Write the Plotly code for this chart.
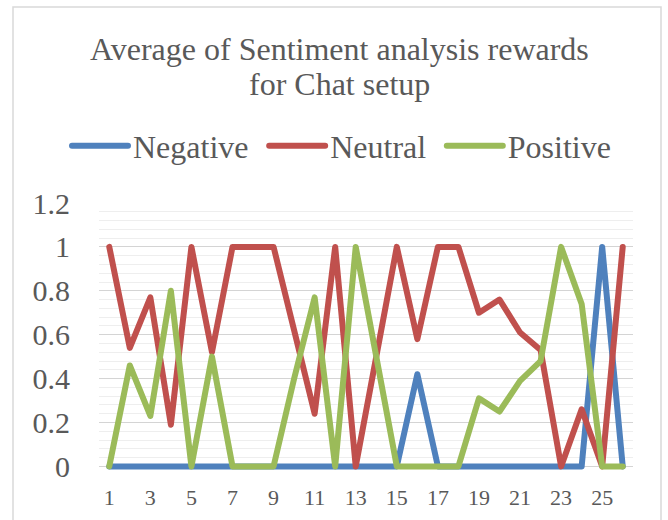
import plotly.graph_objects as go

categories = list(range(1, 27))
negative = [0, 0, 0, 0, 0, 0, 0, 0, 0, 0, 0, 0, 0, 0, 0, 0.42, 0, 0, 0, 0, 0, 0, 0, 0, 1, 0]
neutral = [1, 0.54, 0.77, 0.19, 1, 0.52, 1, 1, 1, 0.62, 0.24, 1, 0, 0.5, 1, 0.58, 1, 1, 0.70, 0.76, 0.61, 0.53, 0, 0.26, 0, 1]
positive = [0, 0.46, 0.23, 0.80, 0, 0.5, 0, 0, 0, 0.40, 0.77, 0, 1, 0.5, 0, 0, 0, 0, 0.31, 0.25, 0.39, 0.48, 1, 0.74, 0, 0]
y_ticks = [0, 0.2, 0.4, 0.6, 0.8, 1, 1.2]
y_labels = ["0", "0.2", "0.4", "0.6", "0.8", "1", "1.2"]
x_ticks = list(range(1, 27, 2))
title_lines = ["Average of Sentiment analysis rewards", "for Chat setup"]
series_names = ["Negative", "Neutral", "Positive"]

W, H = 668, 520
ML, MR, MT, MB = 99, 35, 203, 47
PW, PH = W - ML - MR, H - MT - MB
FONT = "Liberation Serif"
GREY = "#595959"
PAD = "\u00a0\u200a"

def px_x(p):
    return (p - ML) / PW

def px_y(p):
    return (H - MB - p) / PH

fig = go.Figure()
series = [negative, neutral, positive]
colors = ["#4F81BD", "#C0504D", "#9BBB59"]
for i, (name, vals, col) in enumerate(zip(series_names, series, colors)):
    label = name + (PAD if i < len(series_names) - 1 else "")
    fig.add_trace(go.Scatter(x=categories, y=vals, mode="lines", name=label,
                             line=dict(color=col, width=6)))

fig.update_layout(
    width=W, height=H,
    margin=dict(l=ML, r=MR, t=MT, b=MB, autoexpand=False),
    paper_bgcolor="white", plot_bgcolor="white",
    font=dict(family=FONT, color=GREY),
    showlegend=True,
    legend=dict(orientation="h", xref="paper", yref="paper",
                x=px_x(67), xanchor="left", y=px_y(146), yanchor="middle",
                font=dict(size=32, family=FONT, color=GREY),
                itemwidth=56),
    annotations=[
        dict(text=title_lines[0], xref="paper", yref="paper", x=px_x(339), y=px_y(49),
             xanchor="center", yanchor="middle", showarrow=False,
             font=dict(size=32, family=FONT, color=GREY)),
        dict(text=title_lines[1], xref="paper", yref="paper", x=px_x(339), y=px_y(84),
             xanchor="center", yanchor="middle", showarrow=False,
             font=dict(size=32, family=FONT, color=GREY)),
    ],
    shapes=[dict(type="rect", xref="paper", yref="paper",
                 x0=px_x(13), x1=px_x(661), y0=px_y(530), y1=px_y(7),
                 line=dict(color="#d9d9d9", width=1.5), layer="below")],
)
fig.update_xaxes(range=[0.5, 26.5], tickvals=x_ticks, showgrid=False, zeroline=False,
                 showline=False, ticks="", tickfont=dict(size=22, family=FONT, color=GREY),
                 ticklabelstandoff=9)
fig.update_yaxes(range=[-0.03, 1.2], tickvals=y_ticks, ticktext=y_labels,
                 showgrid=True, gridcolor="#d4d4d4", gridwidth=1.3, zeroline=False,
                 showline=False, ticks="", tickfont=dict(size=30, family=FONT, color=GREY),
                 ticklabelstandoff=28,
                 minor=dict(dtick=0.04, tick0=0, showgrid=True, gridcolor="#eeeeee", gridwidth=1))

post = (
    "document.body.style.margin='0';"
    "document.querySelectorAll('.scatterlayer .js-line, .legendlines path').forEach(function(p){"
    "p.style.strokeLinejoin='round';p.style.strokeLinecap='round';});"
)
fig.write_html("out.html", config={"displayModeBar": False}, post_script=post)
